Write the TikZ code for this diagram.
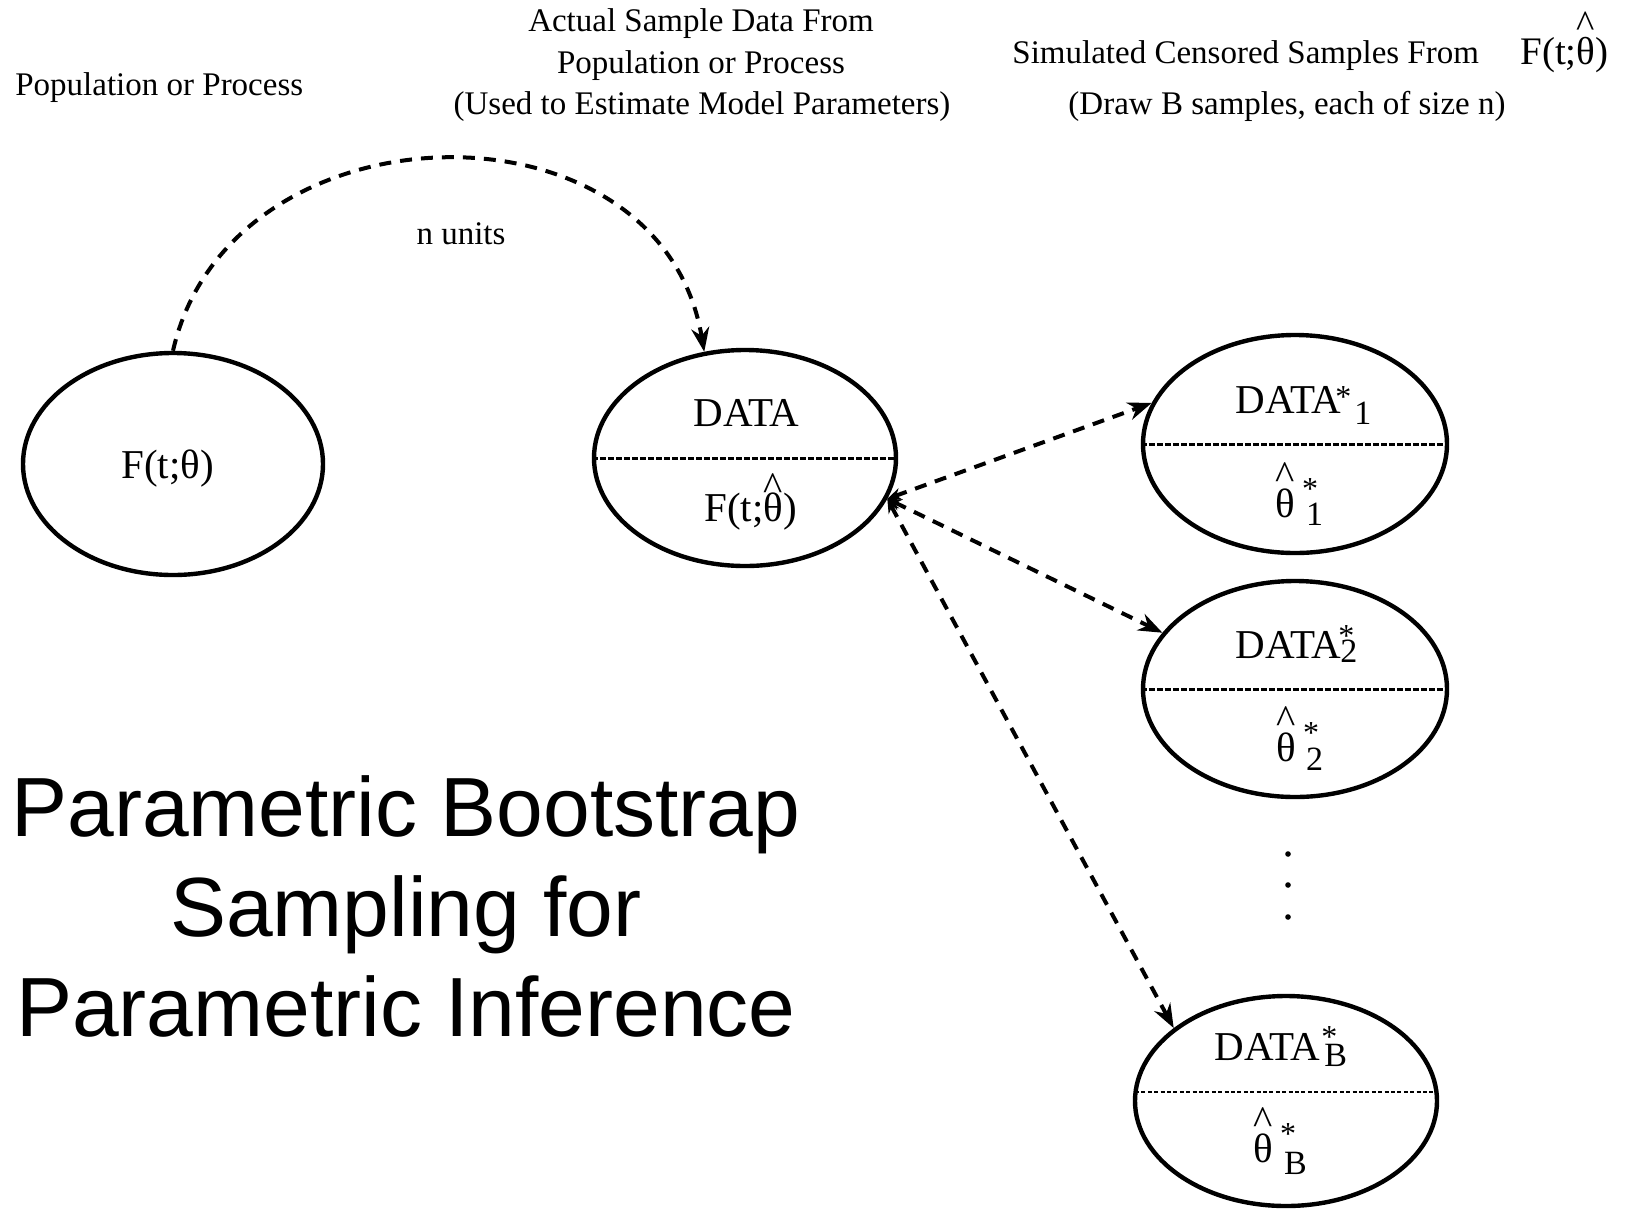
\documentclass[tikz,border=0pt]{standalone}
\usepackage{fontspec}
\setmainfont{Liberation Serif}
\newfontfamily\titlefont{Liberation Sans}
\usetikzlibrary{shapes.geometric,arrows.meta}
\newcommand\hatth[1]{{\ooalign{θ\cr\hidewidth\raisebox{#1}{\textasciicircum}\hidewidth\cr}}}
\newcommand\supst[2]{\rlap{\kern#1\raisebox{#2}{\fontsize{16}{16}\selectfont *}}}
\newcommand\subsc[3]{\kern#1\raisebox{-#2}{\fontsize{17}{17}\selectfont #3}}
\begin{document}
\begin{tikzpicture}[x=0.5pt,y=-0.5pt,
  ell/.style={draw, line width=2.2pt, ellipse, inner sep=0pt},
  hdr/.style={font=\fontsize{16.5}{20}\selectfont, inner sep=0pt},
  etxt/.style={font=\fontsize{20.5}{24}\selectfont, inner sep=0pt, anchor=base west},
  ttl/.style={font=\titlefont\fontsize{42}{50}\selectfont, inner sep=0pt, anchor=base},
  dasharrow/.style={line width=2pt, dash pattern=on 6pt off 4.5pt, -{Stealth[length=12pt,width=9pt]}},
  twoway/.style={line width=2pt, dash pattern=on 6pt off 4.5pt, {Stealth[length=7pt,width=6pt]}-{Stealth[length=12pt,width=9pt]}},
  divider/.style={line width=1.5pt, dash pattern=on 3pt off 1pt}]
\useasboundingbox (0,0) rectangle (1627,1211);

% ellipses
\node[ell, minimum width=150pt, minimum height=111pt] (A) at (173,464) {};
\node[ell, minimum width=151pt, minimum height=108pt] (D) at (745,458) {};
\node[ell, minimum width=152pt, minimum height=109pt] (E1) at (1295,444) {};
\node[ell, minimum width=152pt, minimum height=108pt] (E2) at (1295,689) {};
\node[ell, minimum width=151pt, minimum height=105pt] (EB) at (1286,1101) {};

% dividers
\draw[divider] (D.west) -- (D.east);
\draw[divider] (E1.west) -- (E1.east);
\draw[divider] (E2.west) -- (E2.east);
\draw[line width=0.8pt, dash pattern=on 2pt off 1.2pt] (1135,1092) -- (1437,1092);

% texts in ellipses
\node[etxt] (tA) at (121,478) {F(t;θ)};
\node[etxt] (tD1) at (693,426) {DATA};
\node[etxt] (tD2) at (704,521) {F(t;\hatth{0.5em})};
\node[etxt] (t11) at (1235,413) {DATA\supst{-3pt}{3pt}\subsc{6.5pt}{5.75pt}{1}};
\node[etxt] (t12) at (1275,517) {\hatth{0.68em}\supst{3.5pt}{9pt}\subsc{5.5pt}{4pt}{1}};
\node[etxt] (t21) at (1235,658) {DATA\supst{-1.5pt}{6pt}\subsc{-0.5pt}{2pt}{2}};
\node[etxt] (t22) at (1276,761) {\hatth{0.68em}\supst{3.5pt}{9pt}\subsc{5pt}{4.5pt}{2}};
\node[etxt] (tB1) at (1214,1060) {DATA\supst{0.5pt}{6.5pt}\subsc{2pt}{3pt}{B}};
\node[etxt] (tB2) at (1253,1162) {\hatth{0.68em}\supst{3.5pt}{9pt}\subsc{5.5pt}{6pt}{B}};

% header texts
\node[hdr, anchor=base west] (h1) at (15,95) {Population or Process};
\node[hdr, anchor=base] (h2) at (701,31) {Actual Sample Data From};
\node[hdr, anchor=base] (h3) at (701,73) {Population or Process};
\node[hdr, anchor=base] (h4) at (702,114) {(Used to Estimate Model Parameters)};
\node[hdr, anchor=base west] (h5) at (1012,63) {Simulated Censored Samples From};
\node[anchor=base west, inner sep=0pt, font=\fontsize{19.5}{22}\selectfont] (h6) at (1520,64) {F(t;\hatth{0.67em})};
\node[hdr, anchor=base] (h7) at (1287,114) {(Draw B samples, each of size n)};
\node[hdr, anchor=base] (nu) at (461,244) {n units};

% title
\node[ttl] (T1) at (406,836) {Parametric Bootstrap};
\node[ttl] (T2) at (406,936) {Sampling for};
\node[ttl] (T3) at (406,1036) {Parametric Inference};

% connectors
\draw[dasharrow] (A.north) .. controls (230,100) and (660,90) .. (D.111);
\draw[twoway] (D.-16) -- (E1.164);
\draw[twoway] (D.-16) -- (E2.157.5);
\draw[twoway] (D.-16) -- (EB.147.5);

% vertical ellipsis dots
\fill (1288,854) circle[radius=1.4pt];
\fill (1288,885) circle[radius=1.4pt];
\fill (1288,917) circle[radius=1.4pt];
\end{tikzpicture}
\end{document}
